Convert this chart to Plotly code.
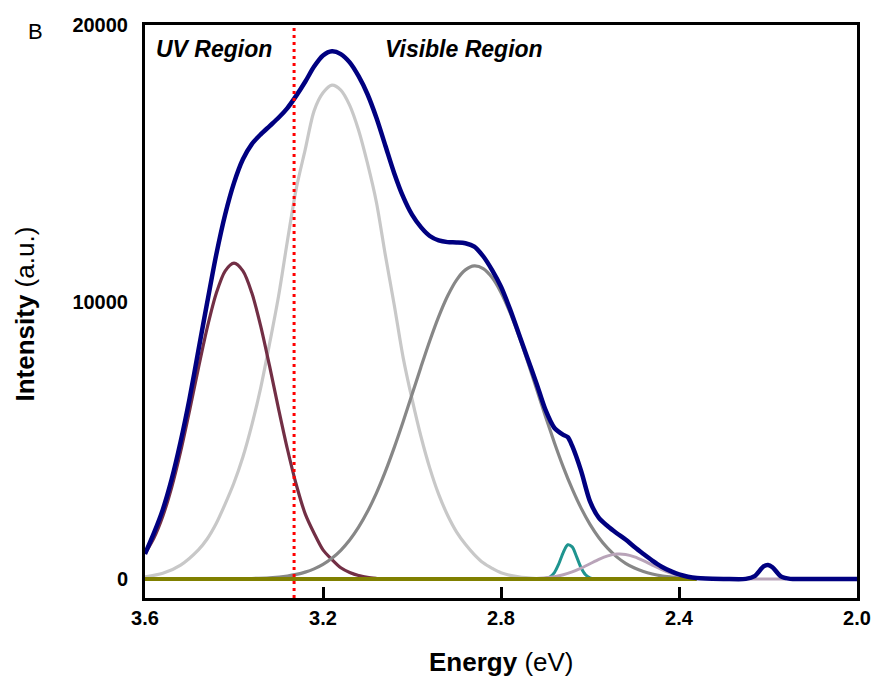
import plotly.graph_objects as go

# ---- data (Energy in eV, Intensity in a.u.) ----
total_x = [3.60, 3.58, 3.56, 3.54, 3.52, 3.50, 3.48, 3.46, 3.44, 3.42, 3.40, 3.38, 3.36, 3.34,
           3.32, 3.30, 3.28, 3.26, 3.24, 3.22, 3.20, 3.18, 3.16, 3.14, 3.12, 3.10, 3.08, 3.06,
           3.04, 3.02, 3.00, 2.98, 2.96, 2.94, 2.92, 2.90, 2.88, 2.86, 2.84, 2.82, 2.80, 2.78,
           2.76, 2.74, 2.72, 2.70, 2.68, 2.66, 2.65, 2.64, 2.62, 2.60, 2.58, 2.56, 2.54, 2.52,
           2.50, 2.48, 2.46, 2.44, 2.42, 2.40, 2.38, 2.36, 2.34, 2.30, 2.25, 2.23, 2.21, 2.20,
           2.19, 2.17, 2.15, 2.10, 2.00]
total_y = [900, 1650, 2500, 3600, 4950, 6500, 8250, 10000, 11700, 13150, 14300, 15150, 15700, 16050,
           16350, 16650, 17000, 17450, 17950, 18500, 18900, 19050, 18950, 18650, 18150, 17500, 16650, 15650,
           14650, 13800, 13150, 12700, 12380, 12220, 12160, 12150, 12120, 12000, 11650, 11150, 10550, 9750,
           8850, 7950, 7050, 6100, 5450, 5200, 5120, 4800, 3900, 2800, 2200, 1900, 1650, 1420,
           1150, 900, 660, 450, 290, 160, 80, 30, 10, 0, 0, 100, 450, 500,
           420, 80, 0, 0, 0]

uv_x = [3.60, 3.58, 3.56, 3.54, 3.52, 3.50, 3.48, 3.46, 3.44, 3.42, 3.40, 3.38, 3.36, 3.34, 3.32,
        3.30, 3.28, 3.26, 3.24, 3.22, 3.20, 3.18, 3.16, 3.14, 3.12, 3.10, 3.08]
uv_y = [912, 1475, 2265, 3310, 4594, 6065, 7612, 9082, 10305, 11115, 11400, 11120, 10330, 9130, 7680,
        6150, 4690, 3400, 2350, 1650, 1050, 700, 400, 230, 120, 60, 20]

blue_peak_x = [3.60, 3.56, 3.52, 3.48, 3.46, 3.44, 3.42, 3.40, 3.38, 3.36, 3.34, 3.32, 3.30, 3.28,
               3.26, 3.24, 3.22, 3.20, 3.18, 3.16, 3.14, 3.12, 3.10, 3.08, 3.06, 3.04, 3.02, 3.00,
               2.98, 2.96, 2.94, 2.92, 2.90, 2.88, 2.86, 2.84, 2.82, 2.80, 2.76, 2.72]
blue_peak_y = [70, 200, 500, 1050, 1450, 2000, 2700, 3470, 4400, 5550, 6900, 8500, 10200, 12200,
               14100, 15500, 16900, 17550, 17830, 17650, 17100, 16200, 15000, 13600, 11700, 9900, 8000, 6500,
               5150, 4000, 3050, 2300, 1700, 1250, 880, 580, 380, 220, 70, 10]

green_peak_x = [3.40, 3.36, 3.32, 3.28, 3.26, 3.24, 3.22, 3.20, 3.18, 3.16, 3.14, 3.12, 3.10, 3.08,
                3.06, 3.04, 3.02, 3.00, 2.98, 2.96, 2.94, 2.92, 2.90, 2.88, 2.86, 2.84, 2.82, 2.80,
                2.78, 2.76, 2.74, 2.72, 2.70, 2.68, 2.66, 2.64, 2.62, 2.60, 2.58, 2.56, 2.54, 2.52,
                2.50, 2.48, 2.46, 2.44, 2.42, 2.40, 2.38]
green_peak_y = [5, 15, 42, 106, 163, 245, 362, 524, 744, 1032, 1403, 1866, 2430, 3097,
                3872, 4740, 5675, 6657, 7645, 8600, 9470, 10214, 10790, 11157, 11300, 11204, 10880, 10345,
                9630, 8782, 7842, 6854, 5868, 4919, 4038, 3248, 2555, 1968, 1485, 1099, 795, 564,
                392, 266, 176, 110, 70, 40, 20]

teal_x = [2.71, 2.70, 2.69, 2.68, 2.67, 2.66, 2.65, 2.64, 2.63, 2.62, 2.61, 2.60, 2.59, 2.58]
teal_y = [0, 15, 70, 229, 547, 960, 1232, 1158, 795, 400, 147, 40, 8, 0]

red_peak_x = [2.72, 2.70, 2.68, 2.66, 2.64, 2.62, 2.60, 2.58, 2.56, 2.54, 2.52, 2.50, 2.48, 2.46,
              2.44, 2.42, 2.40, 2.38, 2.36, 2.34, 2.30, 2.25, 2.16]
red_peak_y = [18, 41, 82, 150, 252, 388, 546, 704, 830, 895, 883, 797, 659, 498,
              344, 218, 126, 67, 32, 15, 3, 0, 0]

base_x = [3.60, 2.36]
base_y = [0, 0]

divider_energy = 3.265
x_ticks = [3.6, 3.2, 2.8, 2.4, 2.0]
x_tick_labels = ["3.6", "3.2", "2.8", "2.4", "2.0"]
y_ticks = [0, 10000, 20000]
y_tick_labels = ["0", "10000", "20000"]

fig = go.Figure()

def add(x, y, color, width):
    fig.add_trace(go.Scatter(x=x, y=y, mode="lines",
                             line=dict(color=color, width=width, shape="spline", smoothing=0.8),
                             showlegend=False, hoverinfo="skip"))

add(blue_peak_x, blue_peak_y, "#c8c8c8", 3.2)
add(uv_x, uv_y, "#722f45", 3.2)
add(green_peak_x, green_peak_y, "#878787", 3.2)
add(teal_x, teal_y, "#1f948f", 3)
add(red_peak_x, red_peak_y, "#b9a4b9", 3)
add(base_x, base_y, "#808000", 4)
add(total_x, total_y, "#000080", 4.5)

fig.add_shape(type="line", xref="x", yref="paper", x0=divider_energy, x1=divider_energy,
              y0=0, y1=1, line=dict(color="#ff0000", width=3, dash="3px,4px"), layer="above")

font_family = "Liberation Sans, Arial, sans-serif"

fig.update_layout(
    width=874, height=681,
    margin=dict(l=145, r=17, t=25, b=83, autoexpand=False),
    paper_bgcolor="white", plot_bgcolor="white",
    font=dict(family=font_family, color="black"),
    xaxis=dict(range=[3.6, 2.0], tickvals=x_ticks, ticktext=x_tick_labels, automargin=False,
               showgrid=False, zeroline=False, showline=True, linecolor="black", linewidth=3,
               mirror=True, ticks="inside", ticklen=11, tickwidth=3, tickcolor="black",
               tickfont=dict(family=font_family, size=20, weight="bold", color="black"),
               ticklabelstandoff=0),
    yaxis=dict(range=[-690, 20000], tickvals=y_ticks, ticktext=y_tick_labels, automargin=False,
               showgrid=False, zeroline=False, showline=True, linecolor="black", linewidth=3,
               mirror=True, ticks="",
               tickfont=dict(family=font_family, size=20, weight="bold", color="black"),
               ticklabelstandoff=10),
)

annotations = [
    dict(text="<b>Energy</b> (eV)", xref="paper", yref="paper", x=0.5, y=-0.1117,
         xanchor="center", yanchor="middle", showarrow=False,
         font=dict(family=font_family, size=26, color="black")),
    dict(text="<b>Intensity</b> (a.u.)", xref="paper", yref="paper", x=-0.1683, y=0.495,
         xanchor="center", yanchor="middle", textangle=-90, showarrow=False,
         font=dict(family=font_family, size=26, color="black")),
    dict(text="B", xref="paper", yref="paper", x=-0.1543, y=0.9895,
         xanchor="center", yanchor="middle", showarrow=False,
         font=dict(family=font_family, size=22, color="black")),
    dict(text="<b><i>UV Region</i></b>", xref="paper", yref="paper", x=0.0126, y=0.958,
         xanchor="left", yanchor="middle", showarrow=False,
         font=dict(family=font_family, size=23, color="black")),
    dict(text="<b><i>Visible Region</i></b>", xref="paper", yref="paper", x=0.3338, y=0.958,
         xanchor="left", yanchor="middle", showarrow=False,
         font=dict(family=font_family, size=23, color="black")),
]
fig.update_layout(annotations=annotations)

fig.write_html("out.html", config={"displayModeBar": False},
               post_script="document.body.style.margin='0';")
